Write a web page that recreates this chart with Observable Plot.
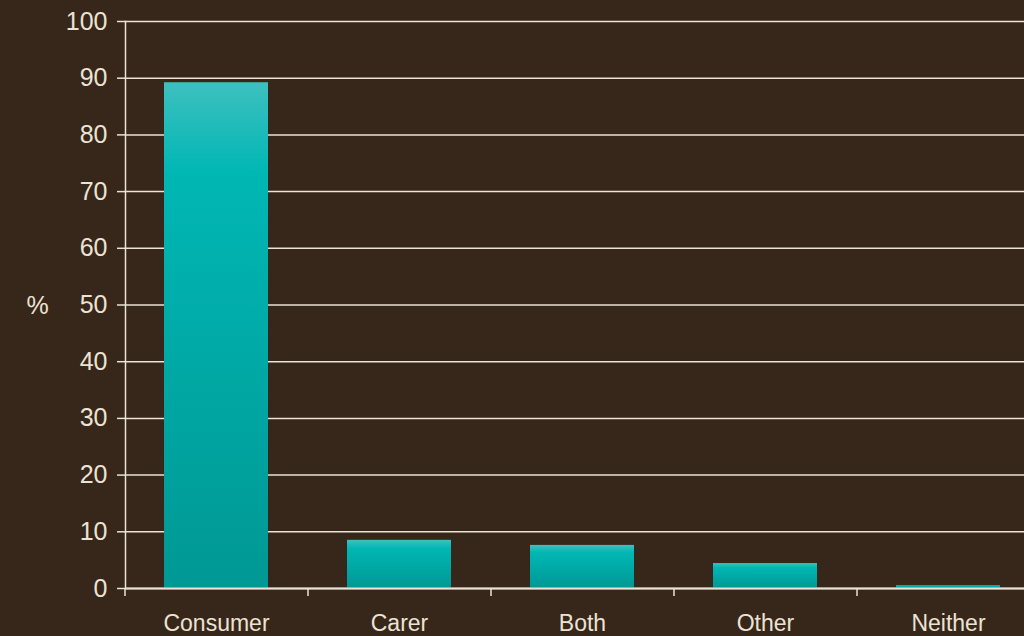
<!DOCTYPE html>
<html>
<head>
<meta charset="utf-8">
<script src="https://cdn.jsdelivr.net/npm/d3@7"></script>
<script src="https://cdn.jsdelivr.net/npm/@observablehq/plot@0.6"></script>
<style>
  html, body { margin: 0; padding: 0; background: #37261a; }
  #chart { width: 1024px; height: 636px; overflow: hidden; }
</style>
</head>
<body>
<div id="chart"></div>
<script>
const categories = ["Consumer", "Carer", "Both", "Other", "Neither"];
const values = [89.2, 8.5, 7.6, 4.4, 0.5];
const yTicks = [0, 10, 20, 30, 40, 50, 60, 70, 80, 90, 100];
const yLabel = "%";

const data = categories.map((c, i) => ({category: c, value: values[i]}));

const W = 1024, H = 636;
const left = 125;
const xRange = [left, 1040];
const step = (xRange[1] - xRange[0]) / categories.length;
const ink = "#ebe3d3";
const font = "'Liberation Sans', Arial, Helvetica, sans-serif";

const chart = Plot.plot({
  width: W,
  height: H,
  marginLeft: left,
  marginRight: 0,
  marginTop: 21,
  marginBottom: 48,
  style: {background: "#37261a", color: ink, fontFamily: font, fontSize: "22px"},
  x: {domain: categories, range: xRange, paddingInner: 0.43, paddingOuter: 0.215},
  y: {domain: [0, 100], ticks: yTicks},
  marks: [
    Plot.gridY(yTicks, {stroke: ink, strokeOpacity: 1, strokeWidth: 1.5}),
    Plot.barY(data, {x: "category", y: "value", fill: "url(#barGrad)"}),
    Plot.frame({anchor: "left", stroke: ink, strokeWidth: 1.5}),
    Plot.ruleY([0], {stroke: ink, strokeWidth: 2}),
    Plot.axisY(yTicks, {tickSize: 8, tickPadding: 10, label: null, stroke: ink, strokeWidth: 1.5, fill: ink, fontSize: 25}),
    Plot.axisX({tickSize: 0, tickPadding: 26, label: null, fill: ink, fontSize: 23}),
    Plot.axisX({tickSize: 8, text: null, label: null, dx: -step / 2, stroke: ink, strokeWidth: 1.5}),
    Plot.text([yLabel], {frameAnchor: "left", dx: -88, dy: 1, fill: ink, fontSize: 25, textAnchor: "middle"})
  ]
});

const ns = "http://www.w3.org/2000/svg";
const defs = document.createElementNS(ns, "defs");
const grad = document.createElementNS(ns, "linearGradient");
grad.setAttribute("id", "barGrad");
grad.setAttribute("x1", "0"); grad.setAttribute("y1", "0");
grad.setAttribute("x2", "0"); grad.setAttribute("y2", "1");
[["0", "#3dc0bf"], ["0.18", "#00b7b4"], ["1", "#009894"]].forEach(([o, c]) => {
  const s = document.createElementNS(ns, "stop");
  s.setAttribute("offset", o);
  s.setAttribute("stop-color", c);
  grad.appendChild(s);
});
defs.appendChild(grad);
chart.insertBefore(defs, chart.firstChild);
document.getElementById("chart").appendChild(chart);
</script>
</body>
</html>
